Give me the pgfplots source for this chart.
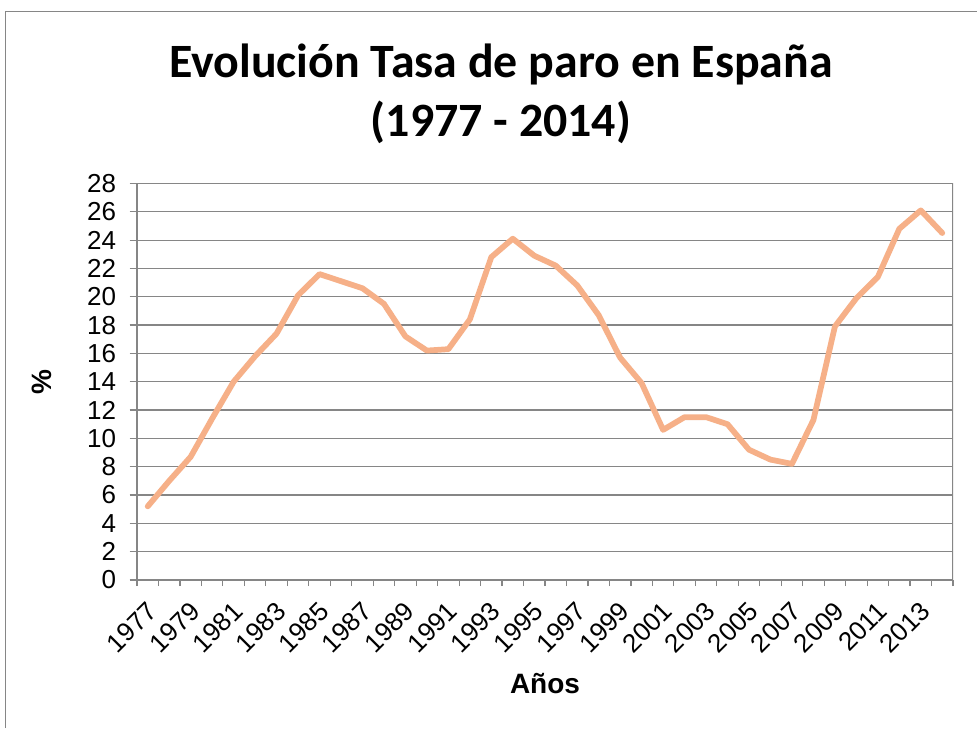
\documentclass[border=0pt]{standalone}
\usepackage{pgfplots}
\pgfplotsset{compat=1.18}
\usepackage{fontspec}
\setmainfont{Liberation Sans}
\newfontfamily\titlefont{Carlito}
\definecolor{serie}{RGB}{246,176,136}
\definecolor{gridc}{RGB}{134,134,134}
\begin{document}
\begin{tikzpicture}[x=0.75pt,y=0.75pt]
\useasboundingbox (0,0) rectangle (977,728);
\fill[white] (0,0) rectangle (977,728);
\draw[gridc, line width=0.75pt] (5,0) -- (5,716) -- (977,716);
\node[anchor=base, font=\titlefont\bfseries\fontsize{35.9}{42}\selectfont] at (501,650) {Evolución Tasa de paro en España};
\node[anchor=base, font=\titlefont\bfseries\fontsize{35.9}{42}\selectfont] at (501,591) {(1977 - 2014)};
\begin{axis}[
  at={(102.75pt,111pt)}, anchor=south west,
  scale only axis, width=612pt, height=297.4pt,
  xmin=-0.5, xmax=37.5, ymin=0, ymax=28,
  ytick={0,2,...,28},
  xtick={0,2,...,36},
  xticklabels={1977,1979,1981,1983,1985,1987,1989,1991,1993,1995,1997,1999,2001,2003,2005,2007,2009,2011,2013},
  minor xtick={-0.5,0.5,...,37.5},
  major x tick style={draw=none},
  minor tick length=4.5pt,
  major tick length=5.5pt,
  tick align=outside,
  ymajorgrids,
  grid style={gridc, line width=0.9pt},
  axis line style={gridc, line width=0.9pt},
  tick style={gridc, line width=0.9pt},
  every tick/.style={gridc, line width=0.9pt},
  axis x line*=bottom, axis y line*=left,
  /pgf/number format/assume math mode=true,
  tick label style={font=\fontsize{19.5}{21}\selectfont},
  xticklabel style={xshift=3.5pt, yshift=-14.5pt, rotate=45, anchor=east, inner sep=0pt},
  yticklabel style={inner sep=0pt, xshift=-10pt},
  xlabel={\bfseries Años},
  ylabel={\bfseries \%},
  label style={font=\fontsize{21}{24}\selectfont},
  xlabel style={at={(axis description cs:0.5,-0.26)}, anchor=center},
  ylabel style={at={(axis description cs:-0.116,0.5)}, anchor=center},
]
\draw[gridc, line width=0.9pt] (rel axis cs:1,0) -- (rel axis cs:1,1);
\addplot[serie, line width=4.3pt, line join=round, line cap=round] coordinates {
(0,5.2) (1,7.0) (2,8.7) (3,11.4) (4,14.0) (5,15.8) (6,17.4) (7,20.1) (8,21.6) (9,21.1)
(10,20.6) (11,19.5) (12,17.2) (13,16.2) (14,16.3) (15,18.4) (16,22.8) (17,24.1) (18,22.9) (19,22.2)
(20,20.8) (21,18.7) (22,15.7) (23,13.9) (24,10.6) (25,11.5) (26,11.5) (27,11.0) (28,9.2) (29,8.5)
(30,8.2) (31,11.3) (32,17.9) (33,19.9) (34,21.4) (35,24.8) (36,26.1) (37,24.5)
};
\end{axis}
\end{tikzpicture}
\end{document}
